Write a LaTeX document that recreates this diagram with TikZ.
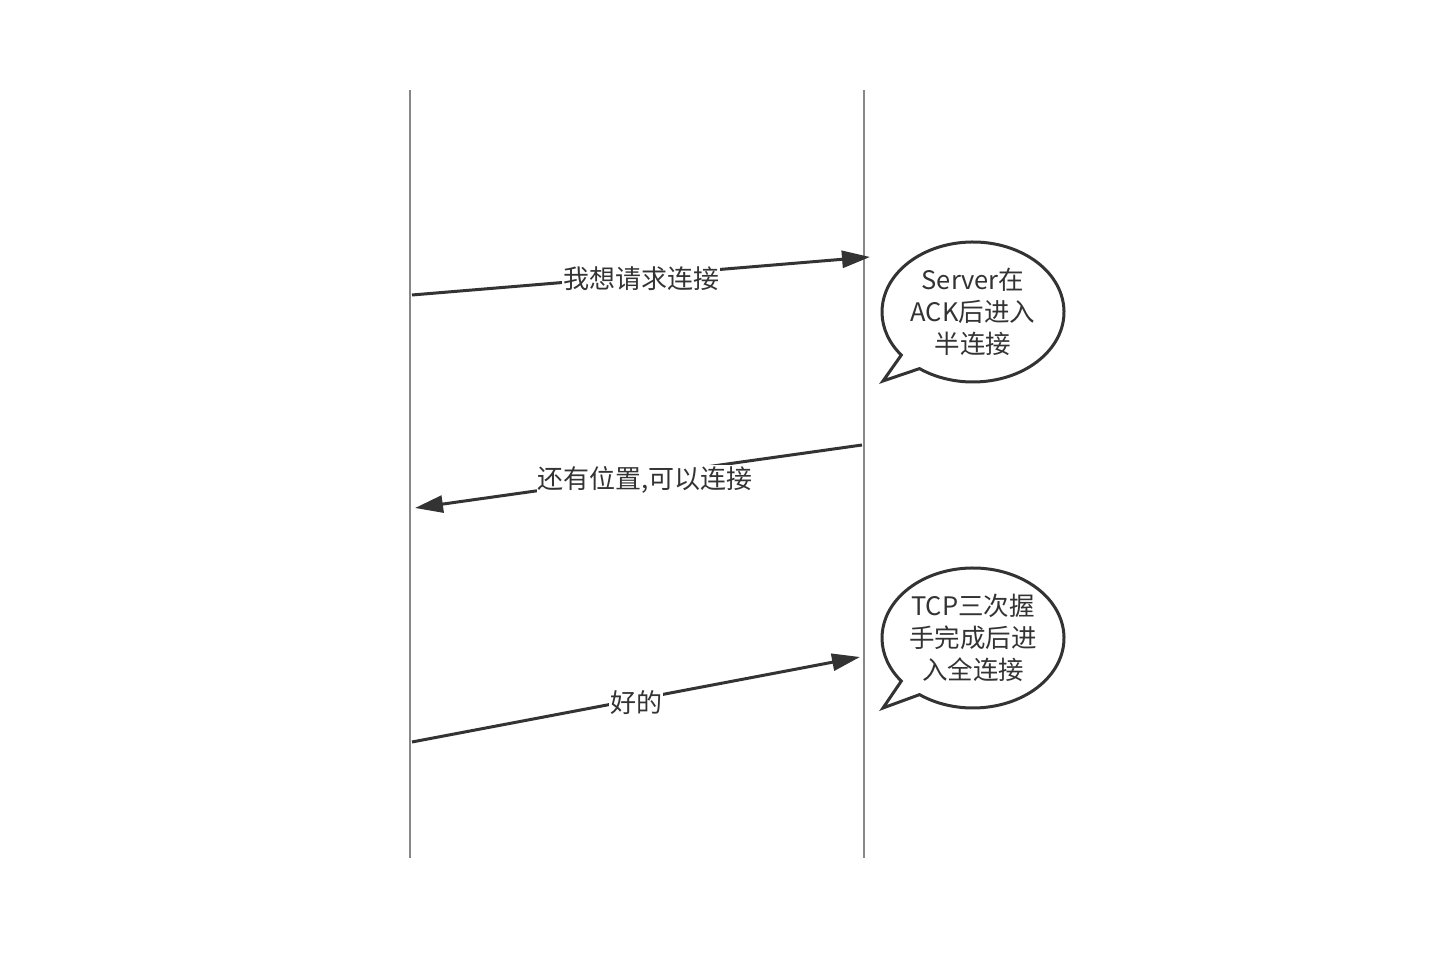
\documentclass[tikz,border=0pt]{standalone}
\usepackage{fontspec}
\setmainfont{Noto Sans CJK SC}
\usetikzlibrary{arrows.meta}
\definecolor{ink}{HTML}{333333}
\definecolor{life}{HTML}{888888}
\tikzset{
  lifeline/.style={draw=life, line width=1.3pt},
  msg/.style={draw=ink, line width=3pt, -{Triangle[length=28pt,width=17pt]}},
  msglabel/.style={fill=white, text=ink, font=\fontsize{26}{30}\selectfont, inner sep=1pt},
  bubble/.style={draw=ink, line width=3pt, fill=white, line join=miter},
  bubbletext/.style={text=ink, font=\fontsize{25.5}{32}\selectfont, align=center}
}
\begin{document}
\begin{tikzpicture}[x=1pt,y=1pt]
\useasboundingbox (0,0) rectangle (1436,980);
% lifelines
\coordinate (L1) at (410,890); \coordinate (L2) at (410,122);
\coordinate (R1) at (864,890); \coordinate (R2) at (864,122);
\draw[lifeline] (L1) -- (L2);
\draw[lifeline] (R1) -- (R2);
% messages
\coordinate (a1s) at (412,685); \coordinate (a1e) at (870,723);
\coordinate (a2s) at (862,535); \coordinate (a2e) at (415,472);
\coordinate (a3s) at (412,238); \coordinate (a3e) at (860,323);
\draw[msg] (a1s) -- node[msglabel, yshift=-3pt] (m1) {我想请求连接} (a1e);
\draw[msg] (a2s) -- node[msglabel, pos=0.485, yshift=-4pt] (m2) {还有位置,可以连接} (a2e);
\draw[msg] (a3s) -- node[msglabel, yshift=-3pt] (m3) {好的} (a3e);
% bubble 1
\coordinate (b1c) at (973,668);
\coordinate (b1t) at (883,599);
\draw[bubble] (b1c) ++(234:91 and 70) arc[start angle=234, end angle=578, x radius=91, y radius=70] -- (b1t) -- cycle;
\node[bubbletext] (t1) at (b1c) {Server在\\ACK后进入\\半连接};
% bubble 2
\coordinate (b2c) at (973,342);
\coordinate (b2t) at (883,272);
\draw[bubble] (b2c) ++(234:91 and 70) arc[start angle=234, end angle=578, x radius=91, y radius=70] -- (b2t) -- cycle;
\node[bubbletext] (t2) at (b2c) {TCP三次握\\手完成后进\\入全连接};
\end{tikzpicture}
\end{document}
